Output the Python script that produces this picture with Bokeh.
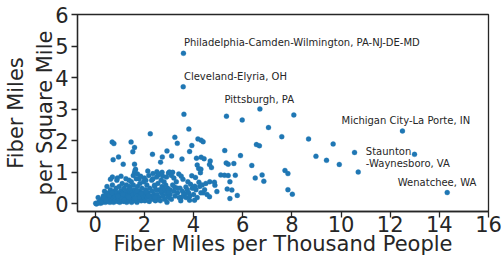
from bokeh.plotting import figure
from bokeh.models import Range1d, FixedTicker, ColumnDataSource
from bokeh.core.properties import value
from bokeh.embed import file_html
from bokeh.resources import INLINE

# --- data ---
fiber_per_thousand = [
    3.59, 3.58, 3.61, 6.70, 8.08, 5.34, 5.98, 7.05, 12.50, 3.81, 2.24, 7.59, 8.68, 3.24, 3.34,
    4.18, 4.31, 4.39, 3.93, 9.68, 6.56, 6.68, 0.69, 0.76, 1.46, 1.60, 1.53, 5.27, 2.92, 3.84,
    10.55, 12.99, 2.33, 3.11, 5.91, 8.98, 0.95, 3.53, 4.31, 4.43, 4.12, 0.73, 2.73, 9.41, 2.66,
    4.68, 4.65, 1.14, 1.60, 9.93, 6.37, 5.33, 5.41, 5.64, 4.15, 4.73, 4.21, 4.30, 1.64, 1.60,
    2.14, 2.51, 2.98, 3.15, 4.28, 10.70, 7.72, 7.84, 6.79, 6.86, 6.51, 5.11, 5.26, 5.41, 5.70,
    5.48, 5.37, 5.56, 5.48, 5.78, 7.84, 8.02, 14.32, 4.87, 4.95, 4.66, 4.85, 4.50, 4.65, 4.39,
    4.22, 4.08, 3.93, 3.77, 3.57, 3.88, 3.69, 4.05, 3.84, 4.04, 3.51, 3.64, 3.23, 3.04, 3.35,
    3.02, 2.75, 2.55, 2.68, 2.35, 2.41, 2.06, 1.79,
    0.02, 0.05, 0.10, 0.15, 0.20, 0.22, 0.28, 0.30, 0.33, 0.35, 0.38, 0.40, 0.42, 0.45, 0.47,
    0.48, 0.50, 0.52,
    0.55, 0.58, 0.60, 0.62, 0.65, 0.67, 0.70, 0.70, 0.72, 0.74, 0.75, 0.78, 0.80, 0.82, 0.85,
    0.87, 0.88, 0.90, 0.92, 0.95, 0.97, 0.98,
    1.00, 1.02, 1.05, 1.07, 1.10, 1.10, 1.12, 1.15, 1.17, 1.20, 1.22, 1.25, 1.27, 1.28, 1.30,
    1.32, 1.35, 1.37, 1.40, 1.40, 1.42, 1.45, 1.47, 1.48, 1.50,
    1.52, 1.55, 1.57, 1.60, 1.62, 1.65, 1.67, 1.70, 1.72, 1.75, 1.77, 1.80, 1.82, 1.85, 1.87,
    1.90, 1.92, 1.95, 1.97,
    2.00, 2.02, 2.05, 2.10, 2.12, 2.15, 2.20, 2.22, 2.25, 2.30, 2.32, 2.35, 2.40, 2.42, 2.45,
    2.48,
    2.52, 2.55, 2.60, 2.62, 2.65, 2.70, 2.72, 2.75, 2.80, 2.82, 2.85, 2.90, 2.92, 2.95, 2.98,
    3.05, 3.10, 3.15, 3.20, 3.25, 3.30, 3.35, 3.42, 3.45, 3.48,
    3.55, 3.60, 3.70, 3.75, 3.80, 3.85, 3.95, 4.00, 4.10, 4.15, 4.25, 4.30, 4.35, 4.45, 4.55,
    0.62, 0.90, 1.05, 1.25, 1.38, 1.55, 1.62, 1.72, 1.85, 2.00, 2.18, 2.35, 2.50, 2.60, 2.72,
    2.90, 3.10, 3.20, 3.40, 3.50,
    0.25, 0.36, 0.57, 0.83, 1.08, 1.18, 1.33, 1.43, 1.58, 1.69, 1.79, 1.94, 2.08, 2.27, 2.38,
    2.57, 2.78, 3.00, 0.12, 0.44, 0.68, 0.93, 1.13, 1.36, 1.63, 1.88, 2.16, 2.44, 2.66, 2.87,
]
fiber_per_sq_mile = [
    4.77, 3.71, 2.84, 3.01, 2.82, 2.78, 2.66, 2.42, 2.31, 2.37, 2.22, 2.13, 2.06, 2.11, 1.92,
    2.06, 2.02, 1.97, 1.85, 1.90, 1.88, 1.84, 1.96, 1.91, 1.96, 1.79, 1.65, 1.69, 1.68, 1.66,
    1.63, 1.57, 1.57, 1.52, 1.53, 1.51, 1.49, 1.42, 1.48, 1.43, 1.45, 1.40, 1.49, 1.38, 1.32,
    1.36, 1.25, 1.26, 1.26, 1.25, 1.22, 1.30, 1.26, 1.28, 1.23, 1.15, 1.12, 1.10, 1.10, 0.99,
    1.04, 1.02, 0.98, 1.00, 0.99, 1.01, 1.06, 0.96, 0.92, 0.72, 0.82, 0.92, 0.91, 0.90, 0.91,
    0.70, 0.47, 0.44, 0.17, 0.27, 0.45, 0.31, 0.36, 0.59, 0.39, 0.70, 0.69, 0.65, 0.23, 0.35,
    0.69, 0.84, 0.89, 0.70, 0.78, 0.62, 0.54, 0.56, 0.12, 0.12, 0.21, 0.33, 0.54, 0.45, 0.50,
    1.01, 0.88, 0.91, 0.75, 0.96, 0.59, 0.75, 0.80,
    0.02, 0.00, 0.03, 0.05, 0.10, 0.02, 0.15, 0.05, 0.25, 0.10, 0.40, 0.18, 0.05, 0.30, 0.12,
    0.55, 0.22, 0.08,
    0.35, 0.15, 0.05, 0.45, 0.25, 0.10, 0.60, 0.85, 0.30, 0.18, 0.05, 0.40, 0.22, 0.12, 0.50,
    0.30, 0.75, 0.08, 0.20, 0.35, 0.15, 0.55,
    0.05, 0.28, 0.42, 0.12, 0.65, 0.20, 0.35, 0.08, 0.50, 0.25, 0.15, 0.40, 0.60, 0.05, 0.30,
    0.20, 0.45, 0.10, 0.55, 0.35, 0.25, 0.15, 0.70, 0.05, 0.40,
    0.28, 0.60, 0.10, 0.45, 0.20, 0.35, 0.80, 0.05, 0.55, 0.30, 0.15, 0.40, 0.65, 0.25, 0.10,
    0.50, 0.35, 0.20, 0.70,
    0.30, 0.10, 0.45, 0.60, 0.20, 0.35, 0.08, 0.50, 0.25, 0.75, 0.40, 0.15, 0.30, 0.55, 0.10,
    0.45,
    0.30, 0.65, 0.20, 0.45, 0.10, 0.35, 0.55, 0.25, 0.70, 0.15, 0.40, 0.30, 0.05, 0.50, 0.20,
    0.30, 0.15, 0.60, 0.40, 0.25, 0.70, 0.35, 0.20, 0.50, 0.10,
    0.40, 0.30, 0.20, 0.45, 0.35, 0.25, 0.50, 0.30, 0.45, 0.20, 0.55, 0.35, 0.60, 0.45, 0.30,
    0.78, 0.82, 0.88, 0.80, 0.75, 0.90, 1.05, 0.95, 0.88, 0.82, 0.90, 0.80, 0.85, 0.95, 1.00,
    0.85, 0.90, 0.82, 0.95, 0.88,
    0.08, 0.18, 0.28, 0.38, 0.32, 0.12, 0.26, 0.48, 0.18, 0.42, 0.22, 0.28, 0.38, 0.18, 0.22,
    0.14, 0.48, 0.36, 0.20, 0.12, 0.35, 0.25, 0.30, 0.22, 0.18, 0.32, 0.26, 0.20, 0.40, 0.60,
]

label_names = [
    "Philadelphia-Camden-Wilmington, PA-NJ-DE-MD",
    "Cleveland-Elyria, OH",
    "Pittsburgh, PA",
    "Michigan City-La Porte, IN",
    "Staunton",
    "-Waynesboro, VA",
    "Wenatchee, WA",
]
label_x = [3.61, 3.61, 5.26, 10.02, 11.01, 11.01, 12.31]
label_y = [5.12, 4.04, 3.32, 2.64, 1.66, 1.29, 0.67]

x_ticks = [0, 2, 4, 6, 8, 10, 12, 14, 16]
y_ticks = [0, 1, 2, 3, 4, 5, 6]

x_label = "Fiber Miles per Thousand People"
y_label = "Fiber Miles\nper Square Mile"

ink = "#262626"
font = "DejaVu Sans"

p = figure(
    output_backend="svg", toolbar_location=None,
    width=503, height=258,
    x_range=Range1d(-0.72, 16), y_range=Range1d(-0.24, 6),
    min_border_left=77, min_border_right=15, min_border_top=14, min_border_bottom=47,
)
p.background_fill_color = "white"
p.border_fill_color = "white"
p.outline_line_color = ink
p.outline_line_width = 1.3
p.xgrid.visible = False
p.ygrid.visible = False

for ax in (p.xaxis[0], p.yaxis[0]):
    ax.axis_line_color = ink
    ax.axis_line_width = 1.3
    ax.major_tick_line_color = ink
    ax.major_tick_line_width = 1.3
    ax.major_tick_in = 0
    ax.major_tick_out = 6
    ax.minor_tick_line_color = None
    ax.major_label_text_font = font
    ax.major_label_text_font_size = "21px"
    ax.major_label_text_color = ink
    ax.axis_label_text_font = font
    ax.axis_label_text_font_size = "21px"
    ax.axis_label_text_font_style = "normal"
    ax.axis_label_text_color = ink

p.xaxis[0].ticker = FixedTicker(ticks=x_ticks)
p.yaxis[0].ticker = FixedTicker(ticks=y_ticks)
p.xaxis[0].axis_label = x_label
p.yaxis[0].axis_label = y_label
p.xaxis[0].major_label_standoff = -2
p.xaxis[0].axis_label_standoff = -3
p.yaxis[0].major_label_standoff = 3
p.yaxis[0].axis_label_standoff = -5

p.scatter(fiber_per_thousand, fiber_per_sq_mile, size=5, fill_color="#1f77b4",
          line_color="#1f77b4", line_width=0.3)

src = ColumnDataSource(dict(x=label_x, y=label_y, t=label_names))
p.text(x="x", y="y", text="t", source=src, text_font=value(font),
       text_font_size="10px", text_color=ink, text_baseline="middle", text_align="left")

open("out.html", "w").write(file_html(p, INLINE))
